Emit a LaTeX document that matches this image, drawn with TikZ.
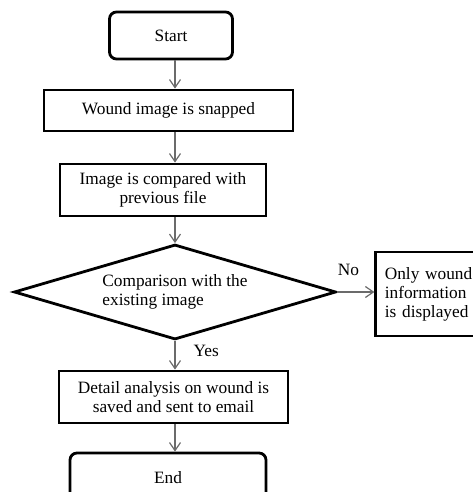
\documentclass[tikz,border=0pt]{standalone}
\usepackage{fontspec}
\setmainfont{Liberation Serif}
\usetikzlibrary{arrows.meta}
\usetikzlibrary{positioning, shapes.geometric}

\begin{document}
\begin{tikzpicture}[x=1pt,y=-1pt,on grid,
    every node/.style={font=\fontsize{17.3}{19}\selectfont},
    terminal/.style={draw,line width=2.8pt,rounded corners=7pt,minimum height=47pt},
    process/.style={draw,line width=2.8pt,align=center,inner sep=0pt,minimum height=52pt},
    decision/.style={draw,diamond,line width=2.8pt,align=left,aspect=3.4,inner sep=0pt,
      minimum width=322pt,minimum height=95pt},
    sidebox/.style={draw,line width=2.8pt,align=left,text width=92pt,inner xsep=9pt,minimum height=84pt},
    flow/.style={draw=black!58,line width=1.2pt,-{Straight Barb[length=8pt,width=11pt]}},
    tag/.style={inner sep=0pt}]
  \useasboundingbox (0,0) rectangle (472,492);
  % Main column of the chart
  \node[terminal, minimum width=123pt] (start) at (171,35.5) {Start};
  \node[process, minimum width=249pt, minimum height=41pt, below=75pt of start, xshift=-2.5pt] (snap) {Wound image is snapped};
  \node[process, minimum width=206pt, below=79.5pt of snap, xshift=-5.5pt] (compare) {Image is compared with\\previous file};
  \node[decision, below=102pt of compare, xshift=12pt] (check) {Comparison with the\\existing image};
  \node[process, minimum width=229pt, below=105pt of check, xshift=-1.5pt] (save) {Detail analysis on wound is\\saved and sent to email};
  \node[terminal, minimum width=196pt, minimum height=50pt, below=81pt of save, xshift=-5.5pt] (end) {End};
  % Side branch
  \node[sidebox, anchor=west] (only) at ([xshift=37pt,yshift=-2pt]check.east) {Only wound\\information\\is displayed};

  % Connectors
  \draw[flow] (check |- start.south) -- (check |- snap.north);
  \draw[flow] (check |- snap.south) -- (check |- compare.north);
  \draw[flow] (check |- compare.south) -- (check.north);
  \draw[flow] (check.south) -- node[tag, pos=0.35, right=18pt] {Yes} (check |- save.north);
  \draw[flow] (check |- save.south) -- (check |- end.north);
  \draw[flow] (check.east) -- node[tag, pos=0.3, above=16pt] {No} (check.east -| only.west);
\end{tikzpicture}
\end{document}
